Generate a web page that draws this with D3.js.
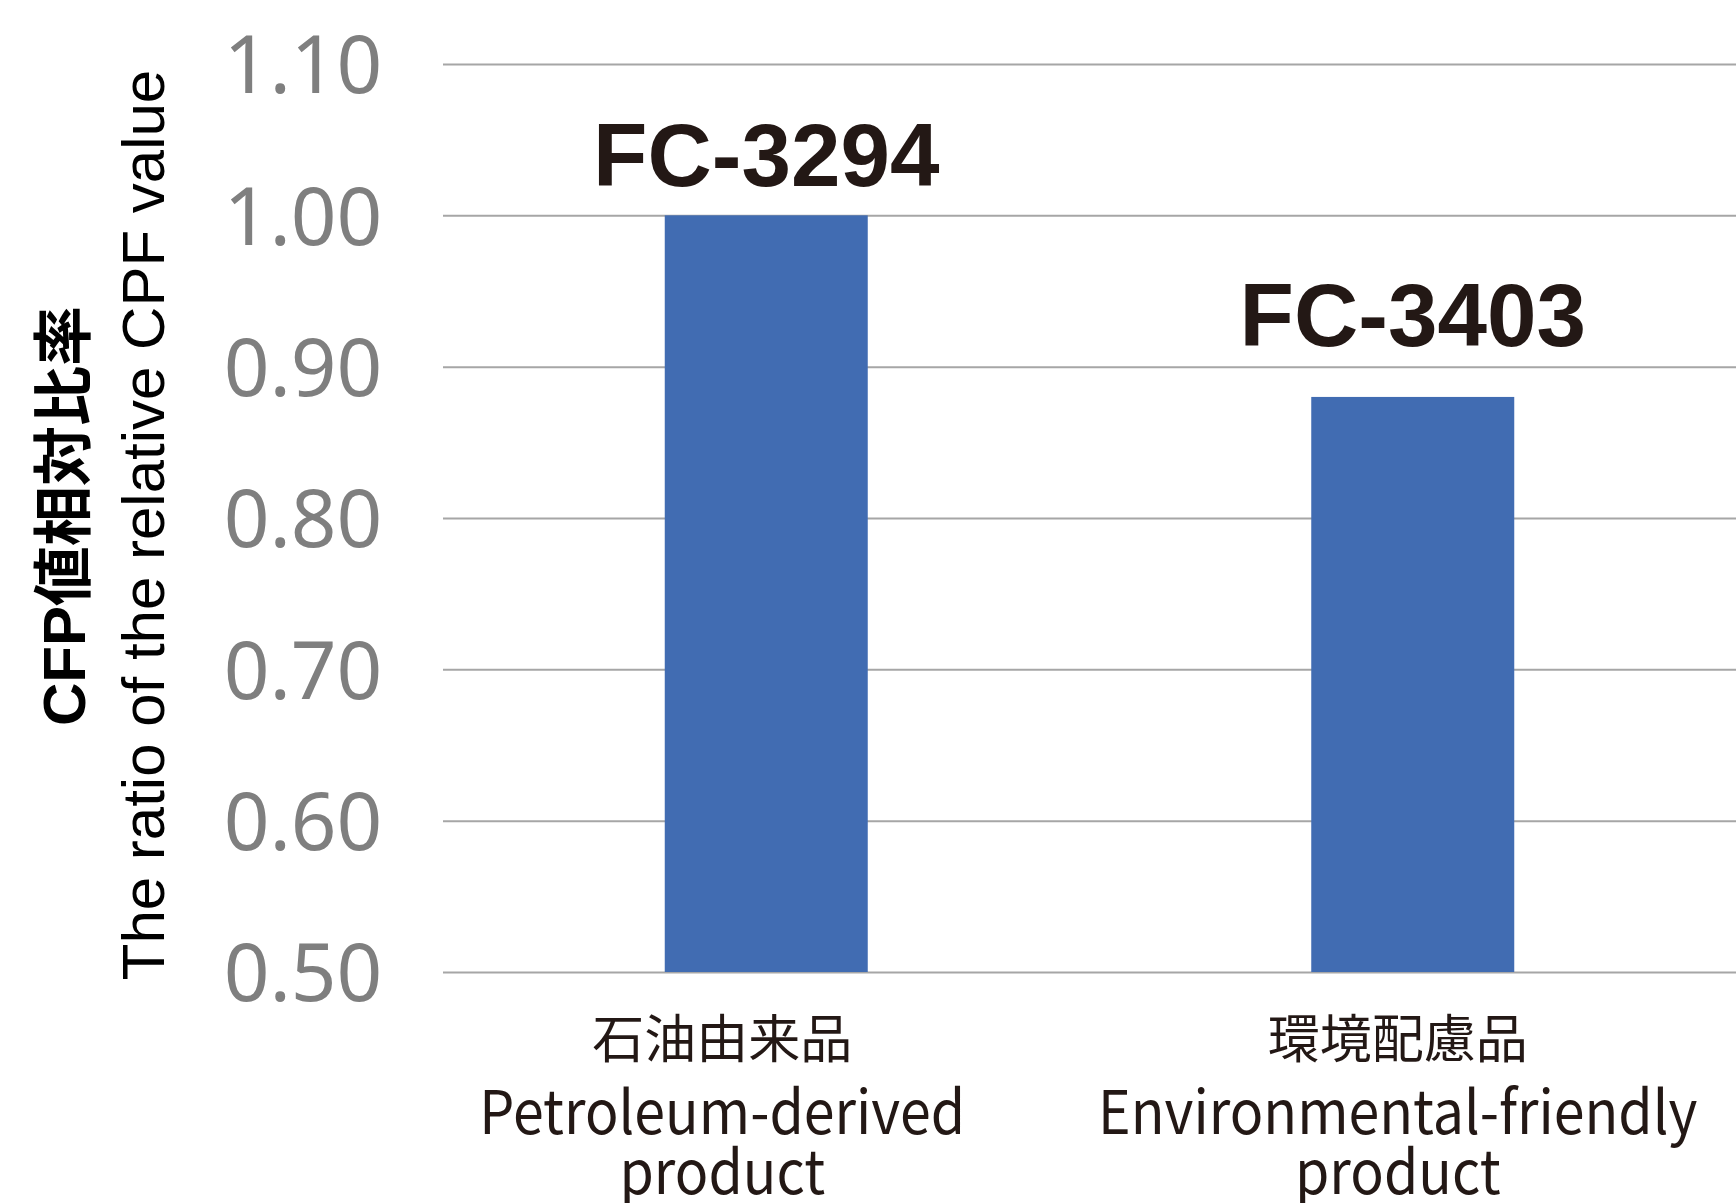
<!DOCTYPE html>
<html>
<head>
<meta charset="utf-8">
<script src="https://cdn.jsdelivr.net/npm/d3@7"></script>
<style>
  html, body { margin: 0; padding: 0; background: #ffffff; }
  svg { display: block; }
</style>
</head>
<body>
<svg id="chart" width="1736" height="1203"></svg>
<script>
// ---- data ----
const categories = ["petroleum", "eco"];
const categoryLabelsJa = ["石油由来品", "環境配慮品"];
const categoryLabelsEn1 = ["Petroleum-derived", "Environmental-friendly"];
const categoryLabelsEn2 = ["product", "product"];
const productNames = ["FC-3294", "FC-3403"];
const ratioValues = [1.00, 0.88];
const tickValues = [0.50, 0.60, 0.70, 0.80, 0.90, 1.00, 1.10];
const yTitleLine1 = "CFP値相対比率";
const yTitleLine2 = "The ratio of the relative CPF value";

// ---- layout / style ----
const W = 1736, H = 1203;
const plotLeft = 443, plotRight = 1736, plotTop = 64, plotBottom = 972;
const barColor = "#416cb2";
const gridColor = "#a6a6a6";
const tickColor = "#7f7f7f";
const textColor = "#231815";
const nameLift = [29, 51];      // px gap between bar top and product name baseline
const catShift = [-44, -15];    // px horizontal shift of category labels

const svg = d3.select("#chart");

const y = d3.scaleLinear().domain([0.5, 1.1]).range([plotBottom, plotTop]);
const x = d3.scaleBand().domain(categories).range([plotLeft, plotRight])
  .paddingInner(0.686).paddingOuter(0.343);

// gridlines + tick labels via axis
const yAxis = d3.axisLeft(y)
  .tickValues(tickValues)
  .tickFormat(d3.format(".2f"))
  .tickSize(-(plotRight - plotLeft))
  .tickPadding(0);

const gAxis = svg.append("g")
  .attr("transform", `translate(${plotLeft},0)`)
  .call(yAxis);
gAxis.select(".domain").remove();
gAxis.selectAll(".tick line")
  .attr("stroke", gridColor)
  .attr("stroke-width", 2);
gAxis.selectAll(".tick text")
  .attr("x", -140)
  .attr("dy", "0.36em")
  .attr("text-anchor", "middle")
  .attr("fill", tickColor)
  .style("font-family", "'Noto Sans', sans-serif")
  .style("font-size", "80px");

// bars
svg.append("g").selectAll("rect")
  .data(categories)
  .join("rect")
  .attr("x", d => x(d))
  .attr("width", x.bandwidth())
  .attr("y", (d, i) => y(ratioValues[i]))
  .attr("height", (d, i) => y(0.5) - y(ratioValues[i]))
  .attr("fill", barColor);

// product names above bars
svg.append("g").selectAll("text")
  .data(categories)
  .join("text")
  .attr("x", d => x(d) + x.bandwidth() / 2)
  .attr("y", (d, i) => y(ratioValues[i]) - nameLift[i])
  .attr("text-anchor", "middle")
  .attr("fill", textColor)
  .style("font-family", "'Liberation Sans', Arial, sans-serif")
  .style("font-weight", "bold")
  .style("font-size", "89px")
  .text((d, i) => productNames[i]);

// category labels
const catG = svg.append("g").selectAll("g")
  .data(categories)
  .join("g")
  .attr("transform", (d, i) => `translate(${x(d) + x.bandwidth() / 2 + catShift[i]},0)`);
catG.append("text")
  .attr("y", 1058)
  .attr("text-anchor", "middle")
  .attr("fill", textColor)
  .style("font-family", "'Noto Sans CJK JP', sans-serif")
  .style("font-size", "52px")
  .text((d, i) => categoryLabelsJa[i]);
catG.append("text")
  .attr("transform", "translate(0,1134) scale(0.925,1)")
  .attr("text-anchor", "middle")
  .attr("fill", textColor)
  .style("font-family", "'Noto Sans CJK JP', sans-serif")
  .style("font-size", "60px")
  .text((d, i) => categoryLabelsEn1[i]);
catG.append("text")
  .attr("transform", "translate(0,1194) scale(0.925,1)")
  .attr("text-anchor", "middle")
  .attr("fill", textColor)
  .style("font-family", "'Noto Sans CJK JP', sans-serif")
  .style("font-size", "60px")
  .text((d, i) => categoryLabelsEn2[i]);

// y-axis title (rotated)
svg.append("text")
  .attr("transform", "translate(85,516) rotate(-90)")
  .attr("text-anchor", "middle")
  .attr("fill", "#000")
  .style("font-family", "'Liberation Sans', 'Noto Sans CJK JP', sans-serif")
  .style("font-weight", "bold")
  .style("font-size", "60px")
  .text(yTitleLine1);
svg.append("text")
  .attr("transform", "translate(164,525) rotate(-90)")
  .attr("text-anchor", "middle")
  .attr("fill", "#000")
  .style("font-family", "'Liberation Sans', sans-serif")
  .style("font-size", "60px")
  .text(yTitleLine2);
</script>
</body>
</html>
